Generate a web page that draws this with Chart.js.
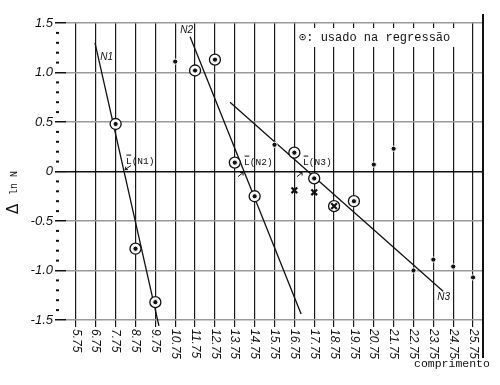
<!DOCTYPE html>
<html>
<head>
<meta charset="utf-8">
<script src="https://cdn.jsdelivr.net/npm/chart.js"></script>
<style>
  body { margin: 0; background: #fff; }
</style>
</head>
<body>
<canvas id="grafico" width="500" height="385"></canvas>
<script>
// classes de comprimento (linhas verticais / rotulos do eixo x)
const classes = [5.75, 6.75, 7.75, 8.75, 9.75, 10.75, 11.75, 12.75, 13.75, 14.75,
                 15.75, 16.75, 17.75, 18.75, 19.75, 20.75, 21.75, 22.75, 23.75, 24.75, 25.75];
const rotulosX = ['5.75', '6.75', '7.75', '8.75', '9.75', '10.75', '11.75', '12.75', '13.75', '14.75',
                  '15.75', '16.75', '17.75', '18.75', '19.75', '20.75', '21.75', '22.75', '23.75', '24.75', '25.75'];

// pontos: comprimento, delta ln N, tipo ('o' usado na regressao, '.' nao usado, 'x' cruz, 'ox' cruz circulada)
const comprimento = [7.75, 8.75, 9.75, 10.75, 11.75, 12.75, 13.75, 14.75, 15.75, 16.75, 17.75,
                     16.75, 17.75, 18.75, 19.75, 20.75, 21.75, 22.75, 23.75, 24.75, 25.75];
const deltaLnN   = [0.48, -0.78, -1.32, 1.11, 1.02, 1.13, 0.09, -0.25, 0.27, 0.19, -0.07,
                     -0.19, -0.21, -0.35, -0.30, 0.07, 0.23, -1.00, -0.89, -0.96, -1.07];
const tipo       = ['o', 'o', 'o', '.', 'o', 'o', 'o', 'o', '.', 'o', 'o',
                    'x', 'x', 'ox', 'o', '.', '.', '.', '.', '.', '.'];

// retas de regressao (extremos)
const retaN1X = [6.71, 9.93],  retaN1Y = [1.30, -1.56];
const retaN2X = [11.50, 17.09], retaN2Y = [1.36, -1.44];
const retaN3X = [13.51, 24.24], retaN3Y = [0.70, -1.21];

const ticksY = [-1.5, -1.0, -0.5, 0, 0.5, 1.0, 1.5];

const pares = (xs, ys) => xs.map((x, i) => ({ x: x, y: ys[i] }));
const filtra = (f) => comprimento.map((x, i) => ({ x: x, y: deltaLnN[i], t: tipo[i] })).filter(p => f(p.t));

const circulos = filtra(t => t === 'o' || t === 'ox');
const pontos = filtra(t => t === 'o' || t === '.');
const cruzes = filtra(t => t === 'x' || t === 'ox');

const reta = (xs, ys) => ({
    type: 'line',
    data: pares(xs, ys),
    borderColor: '#111',
    borderWidth: 1.3,
    pointRadius: 0,
    showLine: true,
    clip: false,
    order: 5
});

// textos soltos no desenho (posicao em unidades dos eixos)
const notas = [
    { texto: 'N1', x: 6.98, y: 1.15 },
    { texto: 'N2', x: 11.0, y: 1.43 },
    { texto: 'N3', x: 23.95, y: -1.27 }
];
const medias = [
    { texto: 'N1', x: 8.27, y: 0.10, seta: 'baixo' },
    { texto: 'N2', x: 14.22, y: 0.09, seta: 'cima' },
    { texto: 'N3', x: 17.19, y: 0.09, seta: 'cima' }
];

const decoracao = {
    id: 'decoracao',
    beforeDatasetsDraw(chart) {
        const c = chart.ctx;
        const sy = chart.scales.y;
        const area = chart.chartArea;
        c.save();
        // tracinhos menores do eixo y
        c.fillStyle = '#111';
        for (let k = -15; k <= 15; k++) {
            if (k % 5 === 0) continue;
            const py = sy.getPixelForValue(k / 10);
            c.fillRect(area.left - 10, py - 1, 3, 2);
        }
        // caixa da legenda
        c.fillStyle = '#fff';
        c.fillRect(297, 28, 160, 19);
        c.fillStyle = '#111';
        c.font = '12px "Liberation Mono", "DejaVu Sans Mono", monospace';
        c.textBaseline = 'middle';
        c.textAlign = 'left';
        c.fillText('\u2299: usado na regressão', 299, 38);
        c.restore();
    },
    afterDraw(chart) {
        const c = chart.ctx;
        const sx = chart.scales.x, sy = chart.scales.y;
        const area = chart.chartArea;
        c.save();
        c.fillStyle = '#111';
        c.strokeStyle = '#111';

        // rotulos do eixo x, girados no sentido horario
        c.font = 'italic 12px "Liberation Sans", Arial, sans-serif';
        c.textAlign = 'left';
        c.textBaseline = 'middle';
        sx.ticks.forEach((t, i) => {
            const px = sx.getPixelForValue(t.value);
            c.save();
            c.translate(px, area.bottom + 9);
            c.rotate(Math.PI / 2);
            c.fillText(rotulosX[i], 0, 0);
            c.restore();
        });

        // titulo do eixo y
        c.save();
        c.translate(14, 214);
        c.rotate(-Math.PI / 2);
        c.textBaseline = 'middle';
        c.font = '15px "DejaVu Sans", sans-serif';
        c.fillText('\u0394', 0, 0);
        c.font = '10px "Liberation Mono", monospace';
        c.fillText('ln N', 19, 0);
        c.restore();

        // titulo do eixo x
        c.font = '11.5px "Liberation Mono", monospace';
        c.textBaseline = 'alphabetic';
        c.fillText('comprimento', 414, 367);

        // borda direita
        c.lineWidth = 2;
        c.beginPath();
        c.moveTo(area.right, 14);
        c.lineTo(area.right, 358);
        c.stroke();

        // nomes das retas
        c.font = 'italic 10px "Liberation Sans", Arial, sans-serif';
        c.textBaseline = 'middle';
        notas.forEach(n => {
            c.fillText(n.texto, sx.getPixelForValue(n.x), sy.getPixelForValue(n.y));
        });

        // comprimentos medios L(N)
        c.font = '9.5px "Liberation Mono", monospace';
        c.lineWidth = 1;
        medias.forEach(m => {
            const px = sx.getPixelForValue(m.x), py = sy.getPixelForValue(m.y);
            c.fillText('L(' + m.texto + ')', px, py);
            const w = c.measureText('L').width;
            c.beginPath();
            c.moveTo(px + 0.5, py - 6.5);
            c.lineTo(px + w - 0.5, py - 6.5);
            c.stroke();
            // setinha
            c.beginPath();
            if (m.seta === 'baixo') {
                c.moveTo(px + 5, py + 4);
                c.lineTo(px - 1, py + 8);
                c.moveTo(px - 1, py + 8);
                c.lineTo(px + 2, py + 8);
                c.moveTo(px - 1, py + 8);
                c.lineTo(px, py + 5);
            } else {
                c.moveTo(px - 6, py + 14);
                c.lineTo(px - 1, py + 10);
                c.moveTo(px - 1, py + 10);
                c.lineTo(px - 4, py + 10);
                c.moveTo(px - 1, py + 10);
                c.lineTo(px - 1, py + 13);
            }
            c.stroke();
        });
        c.restore();
    }
};

const ctx = document.getElementById('grafico').getContext('2d');
const grafico = new Chart(ctx, {
    type: 'scatter',
    data: {
        datasets: [
            reta(retaN1X, retaN1Y),
            reta(retaN2X, retaN2Y),
            reta(retaN3X, retaN3Y),
            {
                data: circulos,
                pointStyle: 'circle',
                pointRadius: 5.5,
                backgroundColor: '#fff',
                borderColor: '#111',
                borderWidth: 1.3,
                clip: false,
                order: 3
            },
            {
                data: cruzes,
                pointStyle: 'crossRot',
                pointRadius: 4,
                borderColor: '#111',
                borderWidth: 2.2,
                order: 2
            },
            {
                data: pontos,
                pointStyle: 'circle',
                pointRadius: 2.6,
                backgroundColor: '#111',
                borderColor: '#fff',
                borderWidth: 1,
                order: 1
            }
        ]
    },
    options: {
        responsive: false,
        animation: false,
        events: [],
        layout: { padding: { left: 16, right: 17, top: 23, bottom: 58 } },
        plugins: {
            legend: { display: false },
            tooltip: { enabled: false }
        },
        scales: {
            x: {
                type: 'linear',
                min: 5.25,
                max: 26.25,
                afterBuildTicks: s => { s.ticks = classes.map(v => ({ value: v })); },
                ticks: { display: false },
                border: { display: false },
                grid: {
                    color: '#1a1a1a',
                    lineWidth: 1.2,
                    drawTicks: true,
                    tickLength: 7
                }
            },
            y: {
                min: -1.5,
                max: 1.5,
                afterBuildTicks: s => { s.ticks = ticksY.map(v => ({ value: v })); },
                afterFit: s => { s.width = 50; },
                ticks: {
                    padding: 2,
                    color: '#111',
                    font: { family: '"Liberation Sans", Arial, sans-serif', size: 13, style: 'italic' },
                    callback: v => v === 0 ? '0' : v.toFixed(1)
                },
                border: { display: false },
                grid: {
                    color: c => c.tick && c.tick.value === 0 ? '#111' : '#9a9a9a',
                    lineWidth: c => c.tick && c.tick.value === 0 ? 1.6 : 1.5,
                    tickColor: '#111',
                    tickLength: 11
                }
            }
        }
    },
    plugins: [decoracao]
});
</script>
</body>
</html>
